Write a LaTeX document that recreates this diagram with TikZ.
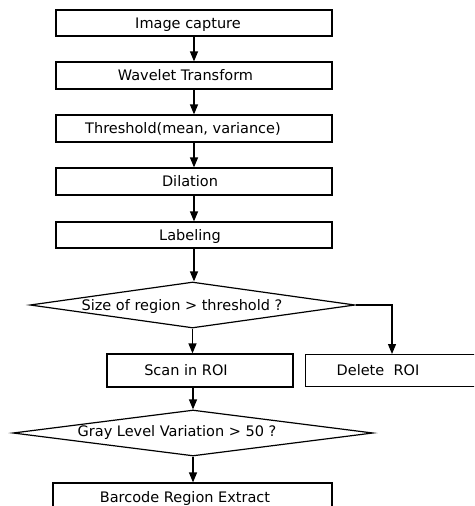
\documentclass[tikz,border=0pt]{standalone}
\usepackage{fontspec}
\setmainfont{DejaVu Sans}
\usetikzlibrary{arrows.meta,shapes.geometric}
\begin{document}
\begin{tikzpicture}[x=1pt,y=-1pt,line width=1.2pt,
  box/.style={draw,rectangle,minimum width=276pt,inner sep=0pt},
  dia/.style={draw,diamond,inner sep=0pt},
  txt/.style={font=\fontsize{14.5}{16}\selectfont,inner sep=0pt,text height=10.6pt,text depth=0pt},
  arr/.style={-{Triangle[length=10pt,width=8pt]}}]
\useasboundingbox (0,0) rectangle (474,506);
\clip (0,0) rectangle (474,506);
% boxes
\node[box,minimum height=26pt] (b1) at (194,23) {};
\node[box,minimum height=27pt] (b2) at (194,75.5) {};
\node[box,minimum height=27pt] (b3) at (194,128.5) {};
\node[box,minimum height=27pt] (b4) at (194,181.5) {};
\node[box,minimum height=26pt] (b5) at (194,235) {};
\node[dia,minimum width=325pt,minimum height=46pt] (d1) at (192.5,305) {};
\node[box,minimum width=186pt,minimum height=33pt] (scan) at (200,370.5) {};
\node[box,minimum width=200pt,minimum height=32pt,anchor=north west] (del) at (305,354) {};
\node[dia,minimum width=360pt,minimum height=46pt] (d2) at (193,433) {};
\node[box,minimum width=279pt,minimum height=32pt] (bar) at (192.5,499) {};
\coordinate (dtop) at (392,354);
% texts
\node[txt] (t1) at (188,23) {Image capture};
\node[txt] (t2) at (185.5,75.5) {Wavelet Transform};
\node[txt] (t3) at (183,128.5) {Threshold(mean, variance)};
\node[txt] (t4) at (190,181.5) {Dilation};
\node[txt] (t5) at (190,235) {Labeling};
\node[txt] (t6) at (182,305) {Size of region > threshold ?};
\node[txt] (t7) at (186,370.5) {Scan in ROI};
\node[txt] (t8) at (378,370) {Delete\ \ ROI};
\node[txt] (t9) at (177,431) {Gray Level Variation > 50 ?};
\node[txt] (t10) at (185,497) {Barcode Region Extract};
% connectors
\draw[arr] (b1.south) -- (b2.north);
\draw[arr] (b2.south) -- (b3.north);
\draw[arr] (b3.south) -- (b4.north);
\draw[arr] (b4.south) -- (b5.north);
\draw[arr] (b5.south) -- (b5.south |- d1.north);
\draw[arr] (d1.south) -- (d1.south |- scan.north);
\draw[arr] (d1.east) -| (dtop);
\draw[arr] (d2.north |- scan.south) -- (d2.north);
\draw[arr] (d2.south) -- (d2.south |- bar.north);
\end{tikzpicture}
\end{document}
